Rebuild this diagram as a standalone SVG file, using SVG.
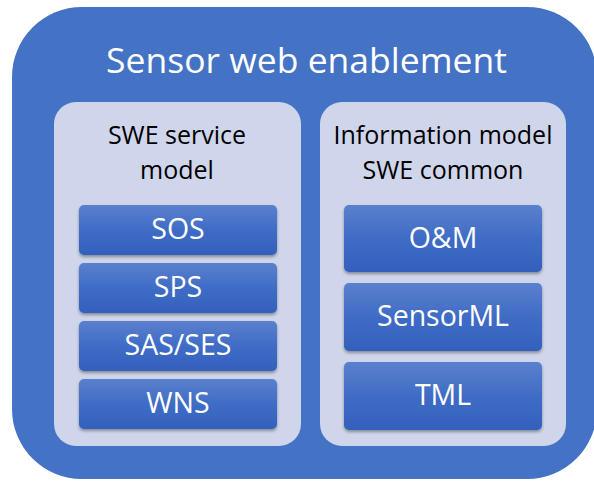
<svg xmlns="http://www.w3.org/2000/svg" width="594" height="481" viewBox="0 0 594 481">
<defs>
<linearGradient id="g" x1="0" y1="0" x2="0" y2="1">
<stop offset="0" stop-color="#5b80cd"/>
<stop offset="0.5" stop-color="#3f6cc6"/>
<stop offset="1" stop-color="#3360bc"/>
</linearGradient>
<filter id="sh" x="-10%" y="-10%" width="120%" height="140%">
<feDropShadow dx="0" dy="2" stdDeviation="1.5" flood-color="#000" flood-opacity="0.35"/>
</filter>
</defs>
<style>
.outer{fill:#4472c4;}
.panel{fill:#cfd5ea;}
.box{fill:url(#g);filter:url(#sh);}
.title{font-family:"Open Sans","Liberation Sans",sans-serif;font-size:35.5px;fill:#fff;text-anchor:middle;}
.head{font-family:"Open Sans","Liberation Sans",sans-serif;font-size:25px;fill:#000;text-anchor:middle;}
.lbl{font-family:"Open Sans","Liberation Sans",sans-serif;font-size:28.5px;fill:#fff;text-anchor:middle;}
</style>
<rect width="594" height="481" fill="#fff"/>
<g id="swe">
<rect class="outer" x="12" y="7" width="585" height="472" rx="70"/>
<text class="title" x="306.5" y="73">Sensor web enablement</text>
</g>
<g id="service-model">
<rect class="panel" x="54" y="102" width="247" height="344" rx="22"/>
<text class="head" x="177" y="144">SWE service</text>
<text class="head" x="177" y="178.5">model</text>
</g>
<g id="info-model">
<rect class="panel" x="320" y="102" width="246" height="344" rx="22"/>
<text class="head" x="443" y="144">Information model</text>
<text class="head" x="443" y="178.5">SWE common</text>
</g>
<g id="sos"><rect class="box" x="79" y="205" width="198" height="50" rx="5"/><text class="lbl" x="178" y="239">SOS</text></g>
<g id="sps"><rect class="box" x="79" y="263" width="198" height="50" rx="5"/><text class="lbl" x="178" y="297">SPS</text></g>
<g id="sas-ses"><rect class="box" x="79" y="321" width="198" height="50" rx="5"/><text class="lbl" x="178" y="355">SAS/SES</text></g>
<g id="wns"><rect class="box" x="79" y="379" width="198" height="50" rx="5"/><text class="lbl" x="178" y="413">WNS</text></g>
<g id="om"><rect class="box" x="344" y="205" width="198" height="67" rx="5"/><text class="lbl" x="443" y="248">O&amp;M</text></g>
<g id="sensorml"><rect class="box" x="344" y="283" width="198" height="68" rx="5"/><text class="lbl" x="443" y="326">SensorML</text></g>
<g id="tml"><rect class="box" x="344" y="362" width="198" height="68" rx="5"/><text class="lbl" x="443" y="405">TML</text></g>
<g id="connectors"/>
</svg>
